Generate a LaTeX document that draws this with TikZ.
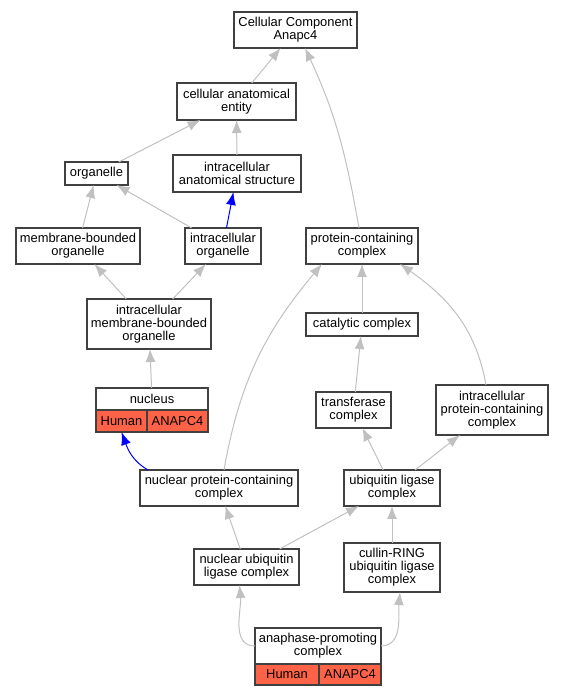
\documentclass[tikz,border=0pt]{standalone}
\usepackage{fontspec}
\setmainfont{Liberation Sans}
\usetikzlibrary{arrows.meta,positioning}
\definecolor{edgegray}{HTML}{C0C0C0}
\definecolor{boxline}{HTML}{404040}
\definecolor{tomato}{HTML}{FF6347}

\begin{document}
\begin{tikzpicture}[x=1pt, y=1pt, >={Latex[length=13pt,width=10pt]},
  font=\fontsize{12.9}{13}\selectfont,
  termbox/.style={draw=boxline, line width=1.1pt, fill=white, align=center, inner sep=1pt, outer sep=0pt},
  genebox/.style={termbox, fill=tomato},
  isaedge/.style={->, draw=edgegray, line width=1pt},
  partedge/.style={->, draw=blue, line width=1pt}]
\useasboundingbox (0,0) rectangle (564,696);
\node[termbox, minimum width=123pt, minimum height=36pt] (cc) at (295.5,666) {Cellular Component\\Anapc4};
\node[termbox, minimum width=119pt, minimum height=37pt] (cae) at (236.5,594.5) {cellular anatomical\\entity};
\node[termbox, minimum width=63pt, minimum height=23pt] (org) at (96.5,522.5) {organelle};
\node[termbox, minimum width=128pt, minimum height=37pt] (ias) at (237,522.5) {intracellular\\anatomical structure};
\node[termbox, minimum width=124pt, minimum height=36pt] (mbo) at (78,450) {membrane-bounded\\organelle};
\node[termbox, minimum width=76pt, minimum height=36pt] (io) at (223,450) {intracellular\\organelle};
\node[termbox, minimum width=112pt, minimum height=36pt] (pcc) at (362,450) {protein-containing\\complex};
\node[termbox, minimum width=124pt, minimum height=50pt] (imbo) at (149,372) {intracellular\\membrane-bounded\\organelle};
\node[termbox, minimum width=112pt, minimum height=22pt] (nuc) at (152,297) {nucleus};
\node[genebox, minimum width=51pt, minimum height=22pt, below right=0pt and 0pt of nuc.south west] (nuch) {Human};
\node[genebox, minimum width=61pt, minimum height=22pt, right=0pt of nuch] (nucg) {ANAPC4};
\node[termbox, minimum width=112pt, minimum height=23pt] (cat) at (362,371.5) {catalytic complex};
\node[termbox, minimum width=75pt, minimum height=36pt] (tra) at (353.5,286) {transferase\\complex};
\node[termbox, minimum width=112pt, minimum height=50pt] (ipcc) at (492,286) {intracellular\\protein-containing\\complex};
\node[termbox, minimum width=158pt, minimum height=36pt] (npcc) at (219,208) {nuclear protein-containing\\complex};
\node[termbox, minimum width=96pt, minimum height=36pt] (ubiq) at (392,208) {ubiquitin ligase\\complex};
\node[termbox, minimum width=105pt, minimum height=36pt] (nulc) at (246.5,129) {nuclear ubiquitin\\ligase complex};
\node[termbox, minimum width=96pt, minimum height=49pt] (crl) at (392,128.5) {cullin-RING\\ubiquitin ligase\\complex};
\node[termbox, minimum width=126pt, minimum height=36pt] (apc) at (318,50) {anaphase-promoting\\complex};
\node[genebox, minimum width=64pt, minimum height=21pt, below right=0pt and 0pt of apc.south west] (apch) {Human};
\node[genebox, minimum width=62pt, minimum height=21pt, right=0pt of apch] (apcg) {ANAPC4};
% edges, child -> parent
\draw[isaedge] (cae) -- (cc);
\draw[isaedge] ([xshift=-3pt]pcc.north) to[out=100,in=-65] ([xshift=9.5pt]cc.south);
\draw[isaedge] (org) -- (cae);
\draw[isaedge] (ias) -- (cae);
\draw[isaedge] (mbo) -- (org);
\draw[isaedge] (io) -- (org);
\draw[partedge] (io) -- (ias);
\draw[isaedge] (imbo) -- (mbo);
\draw[isaedge] (imbo) -- (io);
\draw[isaedge] (nuc) -- (imbo);
\draw[partedge] ([xshift=8pt]npcc.north west) to[out=150,in=-70] (nuch.south);
\draw[isaedge] ([xshift=5pt]npcc.north) to[out=80,in=230] ([xshift=-40pt]pcc.south);
\draw[isaedge] (cat) -- (pcc);
\draw[isaedge] ([xshift=-6pt]ipcc.north) to[out=100,in=-35] ([xshift=38pt]pcc.south);
\draw[isaedge] (tra) -- (cat);
\draw[isaedge] (ubiq) -- (tra);
\draw[isaedge] (ubiq) -- (ipcc);
\draw[isaedge] (nulc) -- (npcc);
\draw[isaedge] (nulc) -- (ubiq);
\draw[isaedge] (crl) -- (ubiq);
\draw[isaedge] (apc.west) to[out=180,in=-85] ([xshift=-7pt]nulc.south);
\draw[isaedge] (apc.east) to[out=0,in=-95] ([xshift=8pt]crl.south);
\end{tikzpicture}
\end{document}
